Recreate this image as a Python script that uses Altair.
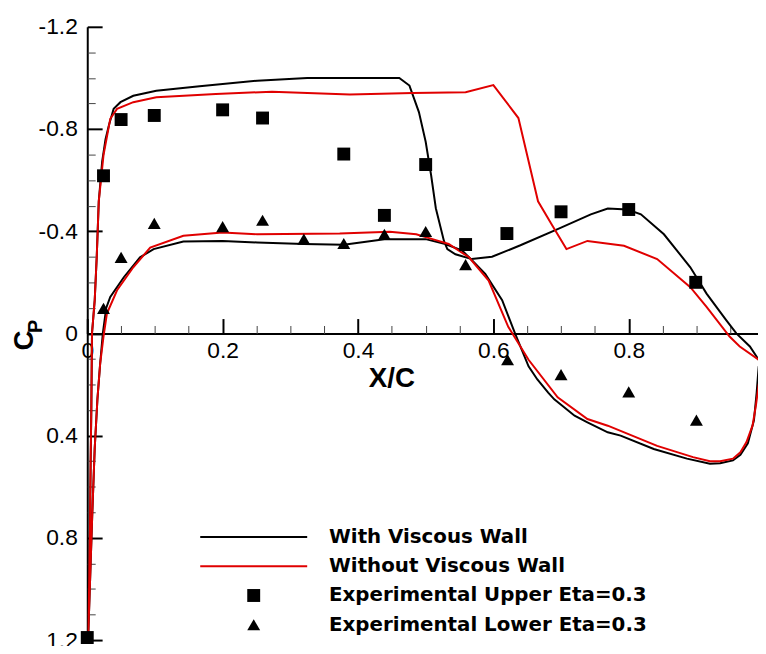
import altair as alt
import pandas as pd

# ---------------- data ----------------
# "With Viscous Wall" (black): lower surface TE -> LE, stagnation, upper surface LE -> TE
with_x = [0.999, 0.992, 0.989, 0.985, 0.976, 0.965, 0.954, 0.935, 0.92, 0.886, 0.837, 0.788, 0.769, 0.739,
          0.72, 0.69, 0.681, 0.665, 0.652, 0.632, 0.613, 0.588, 0.564, 0.554, 0.529, 0.5, 0.439, 0.379,
          0.32, 0.251, 0.2, 0.142, 0.098, 0.078, 0.054, 0.034, 0.028, 0.023, 0.019, 0.015, 0.011,
          0.0075, 0.005, 0.0025, 0.0015,
          0.003, 0.004, 0.005, 0.006, 0.007, 0.011, 0.014, 0.017, 0.022, 0.027, 0.032, 0.039, 0.049,
          0.068, 0.102, 0.166, 0.251, 0.325, 0.461, 0.476, 0.49, 0.5, 0.508, 0.515, 0.527, 0.532,
          0.544, 0.568, 0.598, 0.64, 0.695, 0.744, 0.769, 0.798, 0.818, 0.852, 0.891, 0.915, 0.944,
          0.959, 0.979, 0.992, 0.999]
with_y = [0.11, 0.13, 0.232, 0.34, 0.43, 0.475, 0.497, 0.508, 0.51, 0.49, 0.452, 0.40, 0.387, 0.348,
          0.322, 0.258, 0.232, 0.18, 0.129, 0.0, -0.13, -0.233, -0.298, -0.324, -0.35, -0.369, -0.369,
          -0.347, -0.35, -0.356, -0.362, -0.36, -0.33, -0.298, -0.22, -0.143, -0.1, 0.0, 0.12, 0.258,
          0.45, 0.7, 0.9, 1.1, 1.18,
          0.95, 0.77, 0.5, 0.3, 0.0, -0.13, -0.3, -0.517, -0.672, -0.76, -0.815, -0.879, -0.905,
          -0.93, -0.95, -0.967, -0.989, -1.0, -1.0, -0.97, -0.866, -0.75, -0.62, -0.49, -0.362, -0.33,
          -0.31, -0.291, -0.30, -0.345, -0.408, -0.466, -0.489, -0.485, -0.466, -0.388, -0.259, -0.156,
          -0.052, 0.0, 0.051, 0.103, 0.11]

# "Without Viscous Wall" (red)
without_x = [1.0, 0.992, 0.988, 0.983, 0.974, 0.965, 0.954, 0.935, 0.92, 0.895, 0.842, 0.769, 0.739,
             0.695, 0.652, 0.622, 0.593, 0.564, 0.534, 0.515, 0.486, 0.447, 0.373, 0.251, 0.2, 0.142,
             0.093, 0.068, 0.044, 0.029, 0.024, 0.019, 0.015, 0.011, 0.0075, 0.005, 0.0025, 0.0015,
             0.003, 0.004, 0.005, 0.006, 0.007, 0.011, 0.014, 0.017, 0.024, 0.034, 0.044, 0.068,
             0.102, 0.19, 0.273, 0.388, 0.481, 0.559, 0.6, 0.637, 0.666, 0.686, 0.708, 0.739, 0.793,
             0.842, 0.891, 0.915, 0.949, 0.964, 0.992, 1.0]
without_y = [0.11, 0.2, 0.28, 0.36, 0.425, 0.465, 0.49, 0.5, 0.5, 0.484, 0.44, 0.361, 0.335,
             0.25, 0.103, -0.026, -0.207, -0.298, -0.35, -0.365, -0.388, -0.398, -0.391, -0.388, -0.395,
             -0.382, -0.336, -0.259, -0.169, -0.078, 0.012, 0.12, 0.258, 0.45, 0.7, 0.9, 1.1, 1.18,
             0.95, 0.77, 0.5, 0.3, 0.0, -0.13, -0.3, -0.517, -0.698, -0.84, -0.879, -0.905,
             -0.924, -0.937, -0.946, -0.935, -0.941, -0.944, -0.972, -0.843, -0.517, -0.427, -0.33,
             -0.362, -0.343, -0.291, -0.181, -0.104, 0.012, 0.051, 0.103, 0.11]

upper_x = [0.0, 0.024, 0.05, 0.099, 0.2, 0.259, 0.379, 0.439, 0.5, 0.559, 0.62, 0.7, 0.8, 0.899]
upper_y = [1.19, -0.617, -0.837, -0.853, -0.875, -0.843, -0.702, -0.462, -0.661, -0.348, -0.391,
           -0.476, -0.485, -0.2]
lower_x = [0.024, 0.05, 0.099, 0.2, 0.259, 0.32, 0.379, 0.439, 0.5, 0.559, 0.621, 0.7, 0.8, 0.9]
lower_y = [-0.098, -0.298, -0.431, -0.418, -0.443, -0.369, -0.352, -0.388, -0.399, -0.269, 0.103,
           0.161, 0.229, 0.339]

series_names = ["With Viscous Wall", "Without Viscous Wall",
                "Experimental Upper Eta=0.3", "Experimental Lower Eta=0.3"]

x_major = [0, 0.2, 0.4, 0.6, 0.8]
x_minor = [0.05, 0.1, 0.15, 0.25, 0.3, 0.35, 0.45, 0.5, 0.55, 0.65, 0.7, 0.75, 0.85, 0.9, 0.95]
y_major = [-1.2, -0.8, -0.4, 0, 0.4, 0.8, 1.2]
y_minor = [-1.1, -1.0, -0.9, -0.7, -0.6, -0.5, -0.3, -0.2, -0.1, 0.1, 0.2, 0.3, 0.5, 0.6, 0.7,
           0.9, 1.0, 1.1]

# ---------------- tables ----------------
lines = pd.concat([
    pd.DataFrame({"x": with_x, "y": with_y, "series": series_names[0], "i": range(len(with_x))}),
    pd.DataFrame({"x": without_x, "y": without_y, "series": series_names[1], "i": range(len(without_x))}),
])
points = pd.concat([
    pd.DataFrame({"x": upper_x, "y": upper_y, "series": series_names[2]}),
    pd.DataFrame({"x": lower_x, "y": lower_y, "series": series_names[3]}),
])

W, H = 677, 619
Y0 = H / 2  # pixel offset from top to the y=0 line
FONT = "Liberation Sans"

xs = alt.Scale(domain=[0, 0.991], nice=False, zero=False)
ys = alt.Scale(domain=[-1.2, 1.2], reverse=True, nice=False, zero=False)

common = dict(grid=False, labelFlush=False, labelOverlap=False)

line_path = "M-8.28,-0.16H8.28V0.16H-8.28Z"

black = alt.Chart(lines).transform_filter(alt.datum.series == series_names[0]).mark_line(
    strokeWidth=2, clip=True).encode(
    x=alt.X("x:Q", scale=xs, axis=alt.Axis(orient="top", offset=-Y0, values=x_major, labels=False,
                                           tickSize=15, tickWidth=2, tickColor="black", domainWidth=2,
                                           domainColor="black", title=None, **common)),
    y=alt.Y("y:Q", scale=ys, axis=alt.Axis(orient="right", offset=-W, values=y_major, labels=False,
                                           tickSize=15, tickWidth=2, tickColor="black", domainWidth=2,
                                           domainColor="black", title=None, **common)),
    stroke=alt.Stroke("series:N", scale=alt.Scale(domain=series_names[:2], range=["black", "#e00000"]),
                      legend=None),
    order=alt.Order("i:Q"),
)

red = alt.Chart(lines).transform_filter(alt.datum.series == series_names[1]).mark_line(
    strokeWidth=2, clip=True).encode(
    x=alt.X("x:Q", scale=xs, axis=alt.Axis(orient="top", offset=-Y0, values=x_minor, labels=False,
                                           tickSize=8, tickWidth=1, tickColor="#444", domain=False,
                                           title=None, **common)),
    y=alt.Y("y:Q", scale=ys, axis=alt.Axis(orient="right", offset=-W, values=y_minor, labels=False,
                                           tickSize=8, tickWidth=1, tickColor="#444", domain=False,
                                           title="P", titleFont=FONT, titleFontWeight="bold",
                                           titleFontSize=20, titleAngle=270, titleAlign="center",
                                           titleBaseline="alphabetic", titleX=-46, titleY=302,
                                           titleColor="black", **common)),
    stroke=alt.Stroke("series:N", scale=alt.Scale(domain=series_names[:2], range=["black", "#e00000"]),
                      legend=None),
    order=alt.Order("i:Q"),
)

label_expr = "datum.value == 0 ? '0' : (datum.value < 0 ? '-' : '') + format(abs(datum.value), '.1f')"

legend = alt.Legend(title=None, orient="none", legendX=158, legendY=505, padding=0,
                    symbolSize=170, symbolStrokeWidth=0, symbolOpacity=1, symbolOffset=0,
                    labelOffset=66, labelFont="DejaVu Sans", labelFontWeight="bold",
                    labelFontSize=20, labelColor="black", labelLimit=600, rowPadding=9.5)

pts = alt.Chart(points).mark_point(filled=True, size=170, opacity=1, strokeWidth=0).encode(
    x=alt.X("x:Q", scale=xs, axis=alt.Axis(orient="bottom", offset=-Y0, values=x_major,
                                           ticks=False, tickSize=0, domain=False, labelPadding=6.5,
                                           labelFont=FONT, labelFontSize=23, labelColor="black",
                                           labelExpr=label_expr,
                                           title="X/C", titleFont=FONT, titleFontWeight="bold",
                                           titleFontSize=28, titleColor="black", titleX=307,
                                           titleY=53.5, titleAlign="center",
                                           titleBaseline="alphabetic", **common)),
    y=alt.Y("y:Q", scale=ys, axis=alt.Axis(orient="left", values=y_major, ticks=False, tickSize=0,
                                           domain=False, labelPadding=10, labelFont=FONT,
                                           labelFontSize=23, labelColor="black", labelExpr=label_expr,
                                           title="C", titleFont=FONT, titleFontWeight="bold",
                                           titleFontSize=28, titleColor="black", titleAngle=270,
                                           titleAlign="center", titleBaseline="alphabetic",
                                           titleX=-55, titleY=316, **common)),
    fill=alt.Fill("series:N", scale=alt.Scale(domain=series_names,
                                              range=["black", "#e00000", "black", "black"]),
                  legend=legend),
    shape=alt.Shape("series:N", scale=alt.Scale(domain=series_names,
                                                range=[line_path, line_path, "square", "triangle-up"]),
                    legend=legend),
)

chart = alt.layer(black, red, pts).resolve_axis(x="independent", y="independent").properties(
    width=W, height=H,
    padding={"left": 80, "top": 16, "right": 0, "bottom": 3},
    autosize=alt.AutoSizeParams(type="none"),
    background="white",
).configure_view(stroke=None)

chart.save("out.html", embed_options={"renderer": "svg", "actions": False})
